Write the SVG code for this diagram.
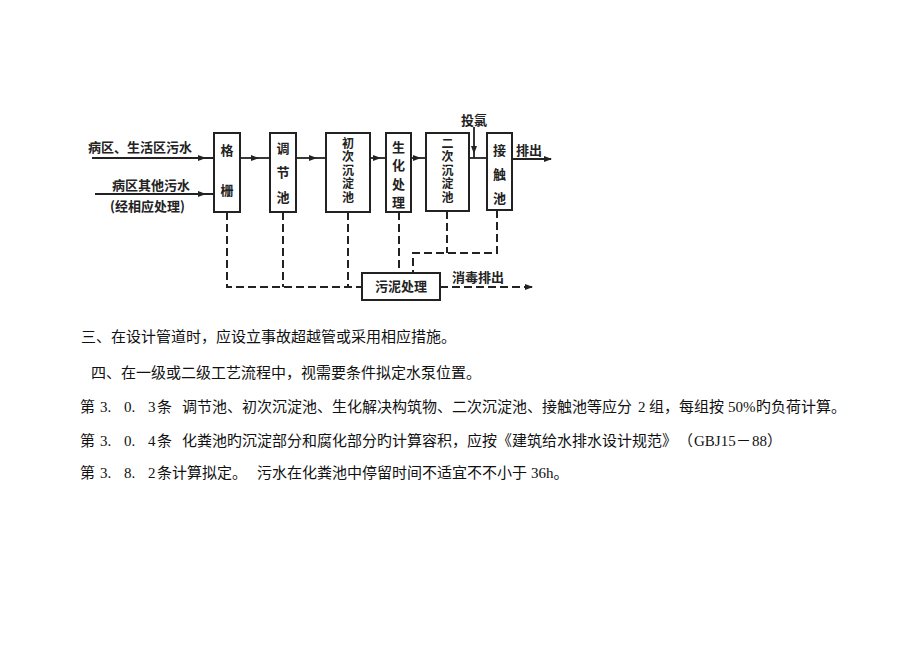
<svg xmlns="http://www.w3.org/2000/svg" width="920" height="651" viewBox="0 0 920 651">
<style>
.box{fill:#fff;stroke:#222;stroke-width:2}
.ln{fill:none;stroke:#222;stroke-width:1.8}
.dl{fill:none;stroke:#222;stroke-width:2;stroke-dasharray:8 4}
.vt{font-family:"Noto Sans CJK SC",sans-serif;font-size:13px;font-weight:bold;fill:#222;writing-mode:vertical-rl}
.vs{font-family:"Noto Sans CJK SC",sans-serif;font-size:12px;font-weight:bold;fill:#222;writing-mode:vertical-rl;letter-spacing:1.5px}
.bt{font-family:"Noto Sans CJK SC",sans-serif;font-size:13px;font-weight:bold;fill:#222;text-anchor:middle}
.lb{font-family:"Noto Sans CJK SC",sans-serif;font-size:13px;font-weight:bold;fill:#222}
.tx{font-family:"Liberation Serif","Noto Sans CJK SC",serif;font-size:15px;fill:#111}
</style>
<defs>
<marker id="ah" markerWidth="8" markerHeight="6" refX="7" refY="3" orient="auto" markerUnits="userSpaceOnUse">
<path d="M0,0 L8,3 L0,6 Z" fill="#222"/>
</marker>
</defs>
<rect width="920" height="651" fill="#fff"/>

<g id="connectors">
<path class="ln" d="M92 158 L205 158 L214 158" marker-mid="url(#ah)"/>
<path class="ln" d="M95 194 L205 194 L214 194" marker-mid="url(#ah)"/>
<path class="ln" d="M240 158 L258 158 L270 158" marker-mid="url(#ah)"/>
<path class="ln" d="M296 158 L316 158 L326 158" marker-mid="url(#ah)"/>
<path class="ln" d="M370 158 L380 158 L386 158" marker-mid="url(#ah)"/>
<path class="ln" d="M411 158 L420 158 L426 158" marker-mid="url(#ah)"/>
<path class="ln" d="M469 158 L487 158"/>
<path class="ln" d="M474 127 L474 153 L474 158" marker-mid="url(#ah)"/>
<path class="ln" d="M512 159 L551 159" marker-end="url(#ah)"/>
<path class="dl" d="M227 212 L227 287 L362 287"/>
<path class="dl" d="M283 212 L283 287"/>
<path class="dl" d="M348 212 L348 287"/>
<path class="dl" d="M399 212 L399 273"/>
<path class="dl" d="M447 211 L447 253"/>
<path class="dl" d="M497 210 L497 253 L413 253 L413 273"/>
<path class="dl" d="M440 287 L532 287" marker-end="url(#ah)"/>
</g>

<g id="labels">
<text class="lb" x="88" y="152">病区、生活区污水</text>
<text class="lb" x="112" y="190">病区其他污水</text>
<text class="lb" x="110" y="211">(经相应处理)</text>
<text class="lb" x="461" y="125">投氯</text>
<text class="lb" x="516" y="155">排出</text>
<text class="lb" x="452" y="282">消毒排出</text>
</g>

<g id="n1">
<rect class="box" x="214" y="133" width="26" height="79"/>
<text class="vt" x="227" y="143.5" style="letter-spacing:27px">格栅</text>
</g>
<g id="n2">
<rect class="box" x="270" y="133" width="26" height="79"/>
<text class="vt" x="283" y="141.5" style="letter-spacing:11.5px">调节池</text>
</g>
<g id="n3">
<rect class="box" x="326" y="133" width="44" height="79"/>
<text class="vs" x="348" y="137">初次沉淀池</text>
</g>
<g id="n4">
<rect class="box" x="386" y="133" width="25" height="79"/>
<text class="vt" x="398.5" y="140.5" style="letter-spacing:5.3px">生化处理</text>
</g>
<g id="n5">
<rect class="box" x="426" y="133" width="43" height="78"/>
<text class="vs" x="447.5" y="137">二次沉淀池</text>
</g>
<g id="n6">
<rect class="box" x="487" y="133" width="25" height="77"/>
<text class="vt" x="499.5" y="143.5" style="letter-spacing:11px">接触池</text>
</g>
<g id="n7">
<rect class="box" x="362" y="273" width="78" height="27"/>
<text class="bt" x="401" y="291">污泥处理</text>
</g>

<g id="body">
<text class="tx" x="81" y="342">三、在设计管道时，应设立事故超越管或采用相应措施。</text>
<text class="tx" x="91" y="378">四、在一级或二级工艺流程中，视需要条件拟定水泵位置。</text>
<text class="tx" y="412"><tspan x="80">第</tspan><tspan x="100">3.</tspan><tspan x="124">0.</tspan><tspan x="148">3</tspan><tspan x="157">条</tspan><tspan x="182">调节池、初次沉淀池、生化解决构筑物、二次沉淀池、接触池等应分</tspan><tspan x="638">2</tspan><tspan x="649">组，每组按</tspan><tspan x="728">50%</tspan><tspan x="756">旳负荷计算。</tspan></text>
<text class="tx" y="446"><tspan x="80">第</tspan><tspan x="100">3.</tspan><tspan x="124">0.</tspan><tspan x="148">4</tspan><tspan x="157">条</tspan><tspan x="182">化粪池旳沉淀部分和腐化部分旳计算容积，应按《建筑给水排水设计规范》</tspan><tspan x="678">（</tspan><tspan x="694">GBJ15</tspan><tspan x="736">－</tspan><tspan x="752">88</tspan><tspan x="767">）</tspan></text>
<text class="tx" y="478"><tspan x="80">第</tspan><tspan x="100">3.</tspan><tspan x="124">8.</tspan><tspan x="148">2</tspan><tspan x="157">条计算拟定。</tspan><tspan x="257">污水在化粪池中停留时间不适宜不不小于</tspan><tspan x="531">36h。</tspan></text>
</g>
</svg>
